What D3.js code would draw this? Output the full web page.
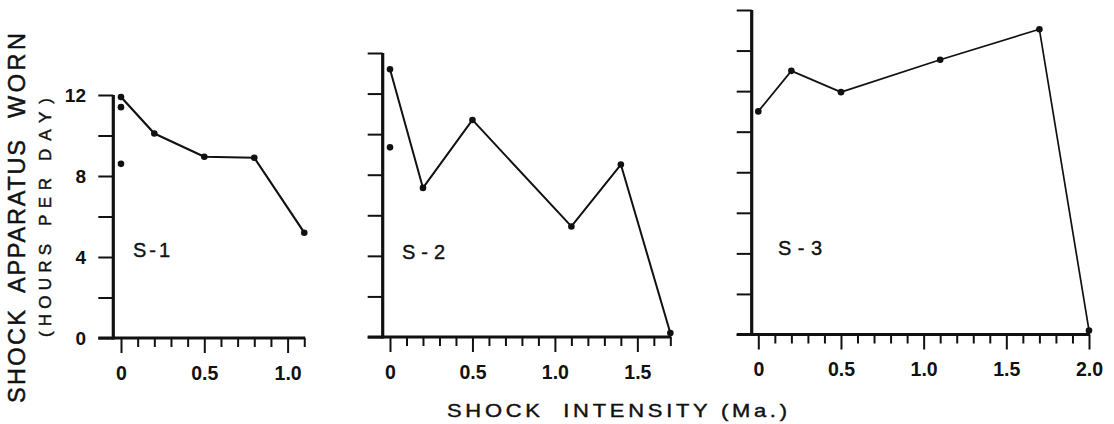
<!DOCTYPE html>
<html>
<head>
<meta charset="utf-8">
<script src="https://cdn.jsdelivr.net/npm/d3@7"></script>
<style>
  html, body { margin: 0; padding: 0; background: #fff; }
  svg { display: block; }
  text { font-family: "Liberation Sans", Arial, Helvetica, sans-serif; fill: #111; }
</style>
</head>
<body>
<svg id="chart" width="1114" height="424"></svg>
<script>
// ---- data ----
const s1Intensity = [0, 0.2, 0.5, 0.8, 1.1];
const s1Hours     = [11.9, 10.1, 8.95, 8.9, 5.2];
const s1ExtraIntensity = [0, 0];
const s1ExtraHours     = [11.4, 8.6];

const s2Intensity = [0, 0.2, 0.5, 1.1, 1.4, 1.7];
const s2Hours     = [13.2, 7.35, 10.7, 5.45, 8.5, 0.2];
const s2ExtraIntensity = [0];
const s2ExtraHours     = [9.35];

const s3Intensity = [0, 0.2, 0.5, 1.1, 1.7, 2.0];
const s3Hours     = [11.0, 13.0, 11.95, 13.55, 15.05, 0.2];
const s3ExtraIntensity = [];
const s3ExtraHours     = [];

const panelNames = ["S-1", "S-2", "S-3"];
const xMaxes = [1.1, 1.7, 2.0];
const yMaxes = [12, 14, 16];
const yTickLabels = [0, 4, 8, 12];
const yTickStep = 2;
const xMajorStep = 0.5;
const xMinorStep = 0.1;
const yTitle1Words = ["SHOCK", "APPARATUS", "WORN"];
const yTitle2Words = ["(HOURS", "PER", "DAY)"];
const xTitle = "SHOCK  INTENSITY (Ma.)";

// ---- layout ----
const layout = [
  { x0: 121,   ppu: 166.6,  base: 338,   top: 95, axisX: 113.3, lw: 2.2, yLabels: true,  lab: [133, 257, 37] },
  { x0: 390,   ppu: 164.9,  base: 337,   top: 53, axisX: 382.7, lw: 2.0, yLabels: false, lab: [402, 259, 43] },
  { x0: 758.3, ppu: 165.35, base: 334.5, top: 10, axisX: 751.7, lw: 1.7, yLabels: false, lab: [778, 255, 44] }
];
const series = [
  { xs: s1Intensity, ys: s1Hours, ex: s1ExtraIntensity, ey: s1ExtraHours },
  { xs: s2Intensity, ys: s2Hours, ex: s2ExtraIntensity, ey: s2ExtraHours },
  { xs: s3Intensity, ys: s3Hours, ex: s3ExtraIntensity, ey: s3ExtraHours }
];

const svg = d3.select("#chart");
const ink = "#111";
const tickLen = 15, minorLen = 9;

layout.forEach((L, i) => {
  const xMax = xMaxes[i], yMax = yMaxes[i];
  const x = d3.scaleLinear().domain([0, xMax]).range([L.x0, L.x0 + xMax * L.ppu]);
  const y = d3.scaleLinear().domain([0, yMax]).range([L.base, L.top]);
  const g = svg.append("g");

  // y ticks
  const yTicks = d3.range(0, yMax + 0.001, yTickStep);
  const yAxis = d3.axisLeft(y).tickValues(yTicks).tickSize(tickLen).tickSizeOuter(0)
    .tickFormat(d => (L.yLabels && yTickLabels.includes(d)) ? d3.format("d")(d) : "");
  const ya = g.append("g").attr("transform", `translate(${L.axisX},0)`).call(yAxis);
  ya.select(".domain").remove();
  ya.selectAll(".tick line").attr("stroke", ink).attr("stroke-width", 2);
  ya.selectAll(".tick text").attr("x", -(L.axisX - 86)).attr("dy", "0.36em")
    .style("font-size", "19px").style("font-weight", "bold").attr("fill", ink);

  // x ticks (minor + major)
  const minor = d3.range(0, xMax + 0.001, xMinorStep).map(v => +v.toFixed(2));
  const major = minor.filter(v => Math.abs(v / xMajorStep - Math.round(v / xMajorStep)) < 1e-6);
  const minorOnly = minor.filter(v => !major.includes(v));
  const xm = g.append("g").attr("transform", `translate(0,${L.base})`)
    .call(d3.axisBottom(x).tickValues(minorOnly).tickSize(minorLen).tickSizeOuter(0).tickFormat(""));
  xm.select(".domain").remove();
  xm.selectAll(".tick line").attr("stroke", ink).attr("stroke-width", 2);
  const xM = g.append("g").attr("transform", `translate(0,${L.base})`)
    .call(d3.axisBottom(x).tickValues(major).tickSize(tickLen).tickSizeOuter(0)
      .tickFormat(d => d === 0 ? "0" : d3.format(".1f")(d)));
  xM.select(".domain").remove();
  xM.selectAll(".tick line").attr("stroke", ink).attr("stroke-width", 2);
  xM.selectAll(".tick text").attr("y", 35 - (i === 2 ? 0.5 : 0)).attr("dy", "0.36em")
    .style("font-size", "19.5px").style("font-weight", "bold").attr("fill", ink);

  // axis lines
  g.append("line").attr("x1", L.axisX).attr("x2", L.axisX)
    .attr("y1", y(yMax)).attr("y2", y(0) + 1.5)
    .attr("stroke", ink).attr("stroke-width", 3.2);
  g.append("line").attr("x1", L.axisX - tickLen).attr("x2", x(xMax) + 1)
    .attr("y1", y(0)).attr("y2", y(0))
    .attr("stroke", ink).attr("stroke-width", 3);

  // data line
  const S = series[i];
  const pts = S.xs.map((v, k) => [v, S.ys[k]]);
  g.append("path").datum(pts)
    .attr("d", d3.line().x(d => x(d[0])).y(d => y(d[1])))
    .attr("fill", "none").attr("stroke", ink).attr("stroke-width", L.lw)
    .attr("stroke-linejoin", "round");
  const allPts = pts.concat(S.ex.map((v, k) => [v, S.ey[k]]));
  g.selectAll("circle.pt").data(allPts).join("circle").attr("class", "pt")
    .attr("cx", d => x(d[0])).attr("cy", d => y(d[1])).attr("r", 3.3).attr("fill", ink);

  // panel label
  g.append("text").attr("x", L.lab[0]).attr("y", L.lab[1])
    .attr("textLength", L.lab[2]).attr("lengthAdjust", "spacing")
    .style("font-size", "20px").style("stroke", ink).style("stroke-width", 0.4)
    .text(panelNames[i]);
});

// rotated y titles: each word placed along the line (reading bottom to top)
function wordLine(words, spans, cx, size, sw) {
  words.forEach((w, k) => {
    const [yb, yt] = spans[k];
    svg.append("text")
      .attr("transform", `translate(${cx},${yb}) rotate(-90)`)
      .attr("textLength", yb - yt).attr("lengthAdjust", "spacing")
      .style("font-size", size + "px")
      .style("stroke", ink).style("stroke-width", sw).text(w);
  });
}
wordLine(yTitle1Words, [[403, 310], [293, 140], [118, 33]], 25, 23.5, 0.5);
wordLine(yTitle2Words, [[337, 244], [226, 178], [161, 98]], 51, 17, 0.45);

// x title: wide lettering -> horizontal stretch of the glyphs
const xStretch = 1.22;
svg.append("g").attr("transform", `translate(447,417) scale(${xStretch},1)`)
  .append("text").attr("x", 0).attr("y", 0)
  .attr("textLength", 340 / xStretch).attr("lengthAdjust", "spacing")
  .style("font-size", "18px").style("white-space", "pre")
  .style("stroke", ink).style("stroke-width", 0.4).text(xTitle);
</script>
</body>
</html>
